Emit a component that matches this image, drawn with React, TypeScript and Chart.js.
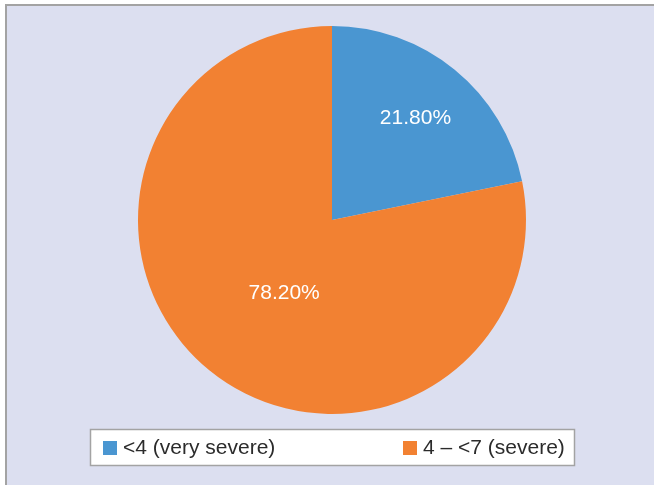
import React, { useEffect, useRef } from "react";
import { Chart, registerables } from "chart.js";

Chart.register(...registerables);

const categories = ["<4 (very severe)", "4 – <7 (severe)"];
const shares = [21.8, 78.2];
const valueLabels = ["21.80%", "78.20%"];
const sliceColors = ["#4a96d1", "#f28132"];

const FONT = '21px "Liberation Sans", Arial, Helvetica, sans-serif';

export default function App() {
  const ref = useRef<HTMLCanvasElement>(null);

  useEffect(() => {
    document.body.style.margin = "0";
    const canvas = ref.current;
    if (!canvas) return;

    const labelPlugin = {
      id: "sliceLabels",
      afterDatasetsDraw(chart: any) {
        const ctx = chart.ctx;
        const meta = chart.getDatasetMeta(0);
        const radial = [0.68, 0.45];
        const angleShift = [0, (-6 * Math.PI) / 180];
        ctx.save();
        ctx.font = FONT;
        ctx.fillStyle = "#ffffff";
        ctx.textAlign = "center";
        ctx.textBaseline = "middle";
        meta.data.forEach((arc: any, i: number) => {
          const p = arc.getProps(["x", "y", "startAngle", "endAngle", "outerRadius"], true);
          const mid = (p.startAngle + p.endAngle) / 2 + angleShift[i];
          const r = p.outerRadius * radial[i];
          ctx.fillText(valueLabels[i], p.x + Math.cos(mid) * r, p.y + Math.sin(mid) * r);
        });
        ctx.restore();
      },
    };

    const legendPlugin = {
      id: "boxLegend",
      afterDraw(chart: any) {
        const ctx = chart.ctx;
        const box = { x: 90, y: 429, w: 484, h: 36 };
        const itemX = [103, 403];
        ctx.save();
        ctx.fillStyle = "#ffffff";
        ctx.fillRect(box.x, box.y, box.w, box.h);
        ctx.strokeStyle = "#a3a3a3";
        ctx.lineWidth = 1.5;
        ctx.strokeRect(box.x + 0.5, box.y + 0.5, box.w, box.h);
        const labels = chart.data.labels as string[];
        const colors = chart.data.datasets[0].backgroundColor as string[];
        const cy = box.y + box.h / 2;
        ctx.font = FONT;
        ctx.textBaseline = "middle";
        ctx.textAlign = "left";
        labels.forEach((lab, i) => {
          ctx.fillStyle = colors[i];
          ctx.fillRect(itemX[i], cy - 6, 14, 14);
          ctx.fillStyle = "#2b2b2b";
          ctx.fillText(lab, itemX[i] + 20, cy + 1);
        });
        ctx.restore();
      },
    };

    const chart = new Chart(canvas, {
      type: "pie",
      data: {
        labels: categories,
        datasets: [
          {
            data: shares,
            backgroundColor: sliceColors,
            borderWidth: 0,
          },
        ],
      },
      options: {
        animation: false,
        responsive: false,
        maintainAspectRatio: false,
        layout: { padding: { left: 10, right: 0, top: 26, bottom: 71 } },
        plugins: {
          legend: { display: false },
          tooltip: { enabled: false },
        },
      },
      plugins: [labelPlugin, legendPlugin],
    });

    return () => chart.destroy();
  }, []);

  return (
    <div style={{ position: "relative", width: 654, height: 485, overflow: "hidden", background: "#ffffff" }}>
      <div
        style={{
          position: "absolute",
          left: 5,
          top: 4,
          width: 700,
          height: 520,
          background: "#dcdff0",
          borderLeft: "2px solid #a3a3a3",
          borderTop: "2px solid #a3a3a3",
        }}
      />
      <canvas ref={ref} width={654} height={485} style={{ position: "absolute", left: 0, top: 0 }} />
    </div>
  );
}
